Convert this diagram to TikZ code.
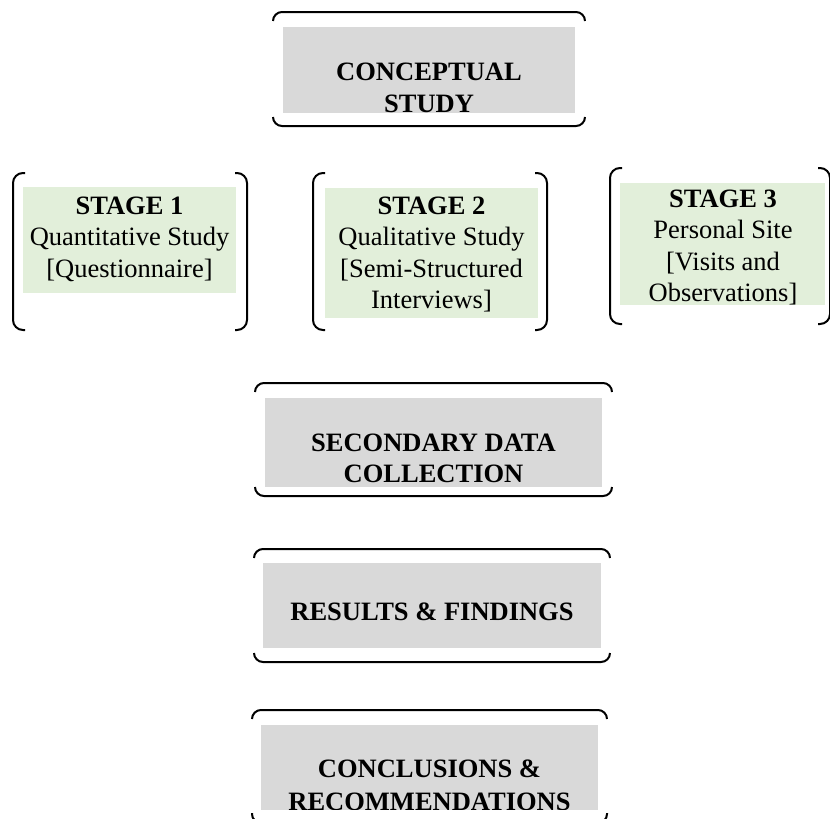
\documentclass[tikz,border=0pt]{standalone}
\usepackage{fontspec}
\setmainfont{Liberation Serif}
\definecolor{boxgray}{HTML}{D9D9D9}
\definecolor{boxgreen}{HTML}{E2EFDA}
\begin{document}
\begin{tikzpicture}[x=1pt,y=-1pt,
  brk/.style={draw=black, line width=2pt, rounded corners=9pt},
  vbrk/.style={draw=black, line width=2pt, rounded corners=10pt},
  graybox/.style={fill=boxgray, draw=none, inner sep=0pt, anchor=north west},
  greenbox/.style={fill=boxgreen, draw=none, inner sep=0pt, anchor=north west},
  bt/.style={anchor=base, inner sep=0pt, font=\fontsize{26.5}{31.5}\selectfont\bfseries},
  nt/.style={anchor=base, inner sep=0pt, font=\fontsize{26.5}{31.5}\selectfont}]
\useasboundingbox[fill=white] (0,0) rectangle (830,819);

% ---------- CONCEPTUAL STUDY ----------
\node[graybox, minimum width=292pt, minimum height=86pt] (cbox) at (283,27) {};
\node[bt] (ct1) at (429,80) {CONCEPTUAL};
\node[bt] (ct2) at (429,112) {STUDY};
\draw[brk] (273,21) -- (273,12) -- (585,12) -- (585,21);
\draw[brk] (273,117) -- (273,126) -- (585,126) -- (585,117);

% ---------- STAGE 1 ----------
\node[greenbox, minimum width=213pt, minimum height=106pt] (s1box) at (23,187) {};
\node[bt] (s1a) at (129.5,214) {STAGE 1};
\node[nt] (s1b) at (129.5,245.5) {Quantitative Study};
\node[nt] (s1c) at (129.5,277) {[Questionnaire]};
\draw[vbrk] (25,173) -- (13,173) -- (13,330) -- (25,330);
\draw[vbrk] (235,173) -- (247,173) -- (247,330) -- (235,330);

% ---------- STAGE 2 ----------
\node[greenbox, minimum width=213pt, minimum height=130pt] (s2box) at (325,188) {};
\node[bt] (s2a) at (431.5,214) {STAGE 2};
\node[nt] (s2b) at (431.5,245.5) {Qualitative Study};
\node[nt] (s2c) at (431.5,277) {[Semi-Structured};
\node[nt] (s2d) at (431.5,308.5) {Interviews]};
\draw[vbrk] (325,173) -- (313,173) -- (313,330) -- (325,330);
\draw[vbrk] (535,173) -- (547,173) -- (547,330) -- (535,330);

% ---------- STAGE 3 ----------
\node[greenbox, minimum width=205pt, minimum height=122pt] (s3box) at (620,183) {};
\node[bt] (s3a) at (723,207) {STAGE 3};
\node[nt] (s3b) at (723,238.5) {Personal Site};
\node[nt] (s3c) at (723,270) {[Visits and};
\node[nt] (s3d) at (723,301.5) {Observations]};
\draw[vbrk] (622,168) -- (610,168) -- (610,324) -- (622,324);
\draw[vbrk] (818,168) -- (830,168) -- (830,324) -- (818,324);

% ---------- SECONDARY DATA COLLECTION ----------
\node[graybox, minimum width=337pt, minimum height=89pt] (sdbox) at (265,398) {};
\node[bt] (sd1) at (433.5,451) {SECONDARY DATA};
\node[bt] (sd2) at (433.5,482) {COLLECTION};
\draw[brk] (255,392) -- (255,383) -- (612,383) -- (612,392);
\draw[brk] (255,487) -- (255,496) -- (612,496) -- (612,487);

% ---------- RESULTS & FINDINGS ----------
\node[graybox, minimum width=338pt, minimum height=85pt] (rfbox) at (263,563) {};
\node[bt] (rf1) at (432,620) {RESULTS \& FINDINGS};
\draw[brk] (254,558) -- (254,549) -- (610,549) -- (610,558);
\draw[brk] (254,653) -- (254,662) -- (610,662) -- (610,653);

% ---------- CONCLUSIONS & RECOMMENDATIONS ----------
\node[graybox, minimum width=337pt, minimum height=85pt] (crbox) at (261,725) {};
\begin{scope}
  \clip (261,725) rectangle (598,809);
  \node[bt] (cr1) at (429.5,777) {CONCLUSIONS \&};
  \node[bt] (cr2) at (429.5,810) {RECOMMENDATIONS};
\end{scope}
\draw[brk] (252,719) -- (252,710) -- (607,710) -- (607,719);
\draw[brk] (252,813) -- (252,823) -- (607,823) -- (607,813);
\end{tikzpicture}
\end{document}
